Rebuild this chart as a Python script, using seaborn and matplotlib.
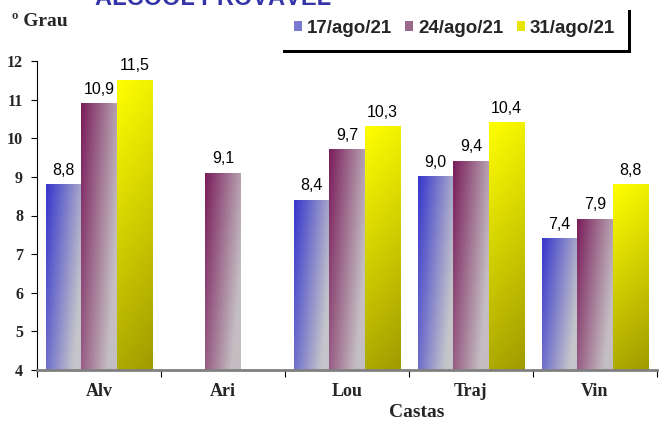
import numpy as np
import pandas as pd
import matplotlib
matplotlib.use("Agg")
import matplotlib.pyplot as plt
import seaborn as sns
from matplotlib.patches import Patch

# ---- data ----
castas = ["Alv", "Ari", "Lou", "Traj", "Vin"]
datas = ["17/ago/21", "24/ago/21", "31/ago/21"]
v_17 = [8.8, 0.0, 8.4, 9.0, 7.4]
v_24 = [10.9, 9.1, 9.7, 9.4, 7.9]
v_31 = [11.5, 0.0, 10.3, 10.4, 8.8]
yticks = [4, 5, 6, 7, 8, 9, 10, 11, 12]

series = {"17/ago/21": v_17, "24/ago/21": v_24, "31/ago/21": v_31}
df = pd.DataFrame({
    "Castas": castas * 3,
    "Data": [d for d in datas for _ in castas],
    "Grau": v_17 + v_24 + v_31,
})

sns.set_theme(style="white")
plt.rcParams["font.family"] = ["Liberation Sans", "DejaVu Sans"]

serif_bold = dict(fontfamily="Liberation Serif", fontweight="bold")

solid = ["#7a7ad0", "#9a6a8a", "#e6e600"]
grads = [
    ((55, 55, 205), (196, 196, 202), "h"),
    ((122, 30, 92), (196, 190, 194), "h"),
    ((255, 255, 0), (160, 155, 0), "v"),
]

fig = plt.figure(figsize=(6.59, 4.22), dpi=100)
ax = fig.add_axes([37 / 659, 1 - 370 / 422, 620 / 659, 309 / 422])

sns.barplot(data=df, x="Castas", y="Grau", hue="Data", hue_order=datas,
            order=castas, width=0.86, palette=solid, saturation=1,
            errorbar=None, legend=False, ax=ax)

ymin, ymax = 4, 12
ny, nx = 80, 40
yy, xx = np.mgrid[0:1:ny * 1j, 0:1:nx * 1j]

for cont, (c0, c1, mode) in zip(ax.containers, grads):
    c0 = np.array(c0) / 255.0
    c1 = np.array(c1) / 255.0
    if mode == "h":
        t = np.clip(0.8 * xx + 0.4 * yy, 0, 1)
    else:
        t = np.clip(0.85 * yy + 0.15 * xx, 0, 1)
    img = c0 + (c1 - c0) * t[..., None]
    for bar in cont:
        h = bar.get_height()
        bar.set_facecolor("none")
        bar.set_edgecolor("none")
        if h <= ymin:
            continue
        x0 = bar.get_x()
        w = bar.get_width()
        ax.imshow(img, extent=[x0, x0 + w, ymin, h], aspect="auto",
                  origin="upper", zorder=2, interpolation="bilinear")

for cont, d in zip(ax.containers, datas):
    labels = [f"{v:.1f}".replace(".", ",") if v > 0 else "" for v in series[d]]
    ax.bar_label(cont, labels=labels, padding=5, fontsize=11.5, color="black")

ax.set_xlim(-0.5, 4.5)
ax.set_ylim(ymin, ymax)

for s in ["top", "right"]:
    ax.spines[s].set_visible(False)
ax.spines["left"].set_color("black")
ax.spines["left"].set_linewidth(0.8)
ax.spines["bottom"].set_color("#808080")
ax.spines["bottom"].set_linewidth(2)
ax.spines["bottom"].set_zorder(5)

ax.set_yticks(yticks)
ax.set_yticklabels([str(v) for v in yticks], fontsize=11.5, **serif_bold)
ax.tick_params(axis="y", left=True, length=4, width=0.8, color="black", pad=6)

ax.set_xticks(range(len(castas)))
ax.set_xticklabels(castas, fontsize=13, **serif_bold)
ax.tick_params(axis="x", which="major", bottom=False, length=0, pad=9)
ax.set_xticks(np.arange(-0.5, len(castas), 1), minor=True)
ax.tick_params(axis="x", which="minor", bottom=True, length=5, width=0.8,
               color="black")

ax.set_xlabel("Castas", fontsize=14, **serif_bold)
ax.xaxis.set_label_coords((417 - 37) / 620, -0.11)
ax.set_ylabel("")
ax.grid(False)

fig.text(12 / 659, 1 - 22 / 422, "º Grau", ha="left", va="center",
         fontsize=14, **serif_bold)

fig.text(95 / 659, 1 - 5 / 422, "ÁLCOOL PROVÁVEL", ha="left", va="baseline",
         fontsize=17, fontweight="bold", color="#3434a8")

handles = [Patch(facecolor=c, edgecolor="none") for c in solid]
leg = fig.legend(handles, datas, loc="upper right",
                 bbox_to_anchor=(628 / 659, 1 - 7 / 422),
                 bbox_transform=fig.transFigure, ncol=3, frameon=True,
                 fancybox=False, shadow={"color": "black", "alpha": 1},
                 prop={"family": "Liberation Sans", "weight": "bold",
                       "size": 13.5},
                 handlelength=0.45, handleheight=0.45, handletextpad=0.25,
                 columnspacing=0.7, borderpad=0.7, borderaxespad=0)
leg.get_frame().set_edgecolor("white")
leg.get_frame().set_facecolor("white")
leg.get_frame().set_linewidth(0)

fig.savefig("out.png", dpi=100)
